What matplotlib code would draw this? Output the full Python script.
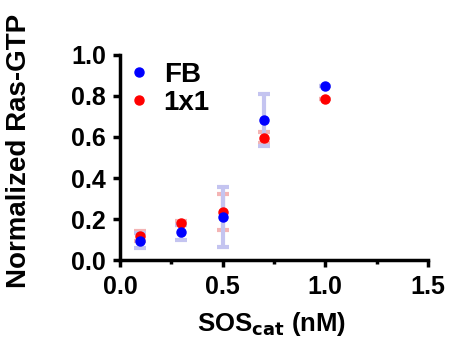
import numpy as np
import matplotlib.pyplot as plt
from matplotlib.ticker import MultipleLocator

plt.rcParams['font.family'] = ['Liberation Sans', 'DejaVu Sans']
plt.rcParams['font.weight'] = 'bold'

# SOS concentration (nM)
sos = [0.1, 0.3, 0.5, 0.7, 1.0]

fb_mean = [0.095, 0.135, 0.21, 0.683, 0.847]
fb_err = [0.035, 0.035, 0.145, 0.125, 0.0]

one_mean = [0.119, 0.181, 0.233, 0.597, 0.785]
one_err = [0.025, 0.01, 0.088, 0.027, 0.0]

fig = plt.figure(figsize=(4.49, 3.5), dpi=100)
ax = fig.add_axes([0.267, 0.257, 0.686, 0.586])

ax.errorbar(sos, one_mean, yerr=one_err, fmt='none', ecolor='#f4b4b4',
            elinewidth=3, capsize=4, capthick=3)
ax.errorbar(sos, fb_mean, yerr=fb_err, fmt='none', ecolor='#c4c4f0',
            elinewidth=3, capsize=4, capthick=3)
ax.plot(sos, one_mean, 'o', color='red', markersize=6.5, label='1x1', zorder=3)
ax.plot(sos, fb_mean, 'o', color='blue', markersize=6.5, label='FB', zorder=4)

ax.set_xlim(0, 1.5)
ax.set_ylim(0, 1.0)
ax.xaxis.set_major_locator(MultipleLocator(0.5))
ax.xaxis.set_minor_locator(MultipleLocator(0.25))
ax.yaxis.set_major_locator(MultipleLocator(0.2))
ax.tick_params(axis='both', which='major', width=2.5, length=5, labelsize=18)
ax.tick_params(axis='x', which='major', pad=6)
ax.tick_params(axis='y', which='major', pad=5)
ax.tick_params(axis='x', which='minor', width=2.5, length=3)

for s in ['top', 'right']:
    ax.spines[s].set_visible(False)
for s in ['left', 'bottom']:
    ax.spines[s].set_linewidth(2.5)

ax.set_xlabel('SOS$_{\\mathbf{cat}}$ (nM)', fontsize=18.5, fontweight='bold')
ax.set_ylabel('Normalized Ras-GTP', fontsize=20, fontweight='bold')
ax.xaxis.set_label_coords(0.492, -0.242)
ax.yaxis.set_label_coords(-0.286, 0.53)

handles, labels = ax.get_legend_handles_labels()
ax.legend(handles[::-1], labels[::-1], loc='upper left', frameon=False,
          fontsize=20, handletextpad=0.4, bbox_to_anchor=(0.016, 0.965),
          borderpad=0, borderaxespad=0, labelspacing=0.05, handlelength=1.0)

fig.savefig('out.png', dpi=100)
